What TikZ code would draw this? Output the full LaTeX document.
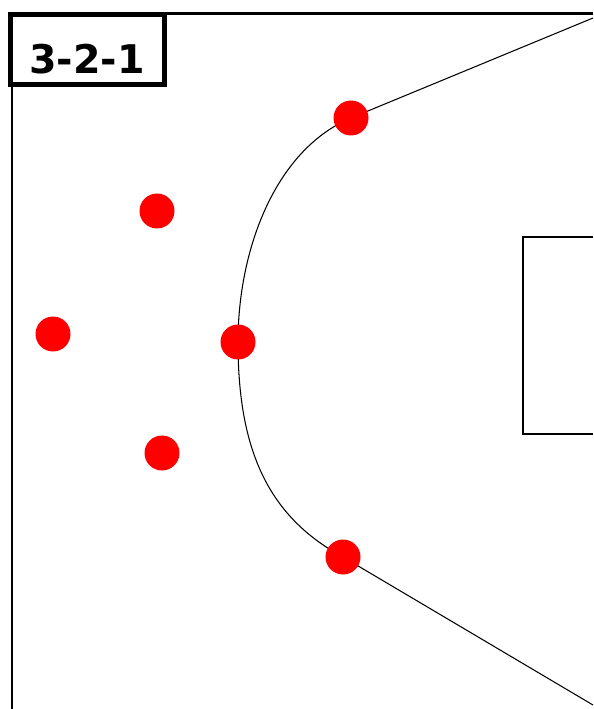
\documentclass[tikz,border=0pt]{standalone}
\usepackage{fontspec}
\newfontfamily\tagfont{DejaVu Sans}
\usetikzlibrary{positioning,backgrounds}

\begin{document}
\begin{tikzpicture}[
  x=0.02cm, y=-0.02cm,
  player/.style={circle, fill=red, minimum size=7mm, inner sep=0pt},
  frame/.style={draw=black, line width=1.2pt},
  tag/.style={rectangle, draw=black, fill=white, line width=2.6pt,
              minimum width=30.9mm, minimum height=14.1mm, inner sep=0pt},
  zone/.style={draw=black, line width=0.6pt}]
  \useasboundingbox (0,0) rectangle (593,709);
  % court edges
  \draw[frame] (593,13.5) -- (12,13.5) -- (12,709);
  \node[tag] (tag) at (87.5,49.5) {};
  \node[font=\tagfont\bfseries\fontsize{22.5}{24}\selectfont, inner sep=0pt] (name) at (87,59) {3-2-1};
  % goal area
  \draw[frame] (593,237) -- (523,237) -- (523,434) -- (593,434);
  % players
  \node[player] (p1) at (351,118) {};
  \node[player] (p2) at (157,211) {};
  \node[player] (p3) at (53,334) {};
  \node[player] (p4) at (238,342) {};
  \node[player] (p5) at (162,453) {};
  \node[player] (p6) at (343,557) {};
  % 9m line
  \coordinate (top) at (593,18);
  \coordinate (bot) at (593,705);
  \begin{scope}[on background layer]
    \fill[white] (0,0) rectangle (593,709);
    \draw[zone] (top) -- (p1.center)
      .. controls (275,150) and (238,250) .. (p4.center)
      .. controls (238,445) and (265,515) .. (p6.center) -- (bot);
  \end{scope}
\end{tikzpicture}
\end{document}
